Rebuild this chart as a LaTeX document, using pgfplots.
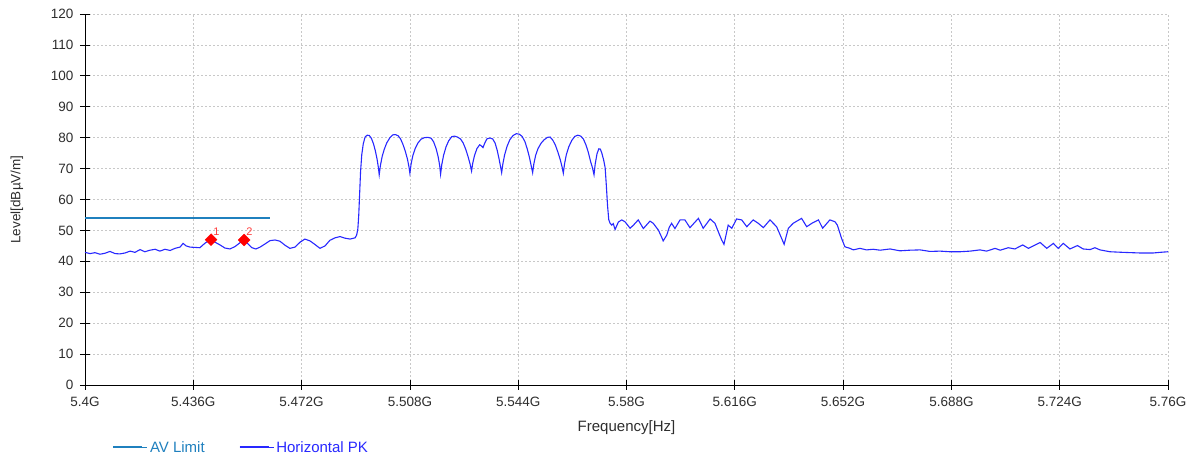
\documentclass[border=0pt]{standalone}
\usepackage{fontspec}
\setmainfont{Liberation Sans}
\usepackage{pgfplots}
\pgfplotsset{compat=1.18}
\definecolor{limitc}{RGB}{31,128,190}
\definecolor{tracec}{RGB}{40,40,255}
\definecolor{gridc}{RGB}{200,200,200}
\definecolor{txtc}{RGB}{45,45,45}
\begin{document}
\begin{tikzpicture}
\useasboundingbox (0,0) rectangle (1196pt,454pt);
\begin{axis}[
  at={(85pt,69pt)}, anchor=south west,
  scale only axis, width=1083pt, height=371pt,
  xmin=5400, xmax=5760, ymin=0, ymax=120,
  xtick={5400,5436,5472,5508,5544,5580,5616,5652,5688,5724,5760},
  xticklabels={5.4G,5.436G,5.472G,5.508G,5.544G,5.58G,5.616G,5.652G,5.688G,5.724G,5.76G},
  ytick={0,10,20,30,40,50,60,70,80,90,100,110,120},
  yticklabels={0,10,20,30,40,50,60,70,80,90,100,110,120},
  axis lines=left, axis line style={-, black, line width=0.8pt},
  grid=major, grid style={dash pattern=on 2pt off 2pt, gridc, line width=0.7pt},
  tick align=center, major tick length=10pt, tick style={black, line width=0.8pt},
  tick label style={font=\fontsize{13.5}{15}\selectfont, text=txtc},
  xticklabel style={yshift=-4pt},
  yticklabel style={xshift=-3pt},
  /pgf/number format/assume math mode=true,
  xlabel={Frequency[Hz]},
  ylabel={Level[dBµV/m]},
  xlabel style={at={(axis description cs:0.5,0)}, anchor=center, yshift=-43pt, font=\fontsize{15}{17}\selectfont, text=txtc},
  ylabel style={at={(axis description cs:0,0.5)}, anchor=center, yshift=68pt, font=\fontsize{13.5}{15}\selectfont, text=txtc},
  legend columns=2,
  legend style={draw=none, fill=none, at={(axis description cs:0,0)}, anchor=west, xshift=24pt, yshift=-62.5pt, font=\fontsize{15}{15}\selectfont, /tikz/every even column/.append style={column sep=32pt}},
  clip=false,
]
\addplot[limitc, line width=1.6pt,
  legend image code/.code={\draw[limitc, line width=2pt] (0pt,0pt) -- (29pt,0pt); \path (0pt,0pt) -- (34pt,0pt);}]
  coordinates {(5400,54) (5461.5,54)};
\addlegendentry{\textcolor{limitc}{AV Limit}}
\addplot[tracec, line width=1.1pt,
  legend image code/.code={\draw[tracec, line width=2pt] (0pt,0pt) -- (29pt,0pt); \path (0pt,0pt) -- (34pt,0pt);}]
  coordinates {
(5400.0,42.9) (5401.7,42.5) (5403.3,42.8) (5405.0,42.3) (5406.6,42.6) (5408.3,43.2)
(5410.0,42.5) (5411.6,42.4) (5413.3,42.7) (5415.0,43.3) (5416.6,42.9) (5418.3,43.8)
(5419.9,43.1) (5421.6,43.6) (5423.3,43.9) (5424.9,43.3) (5426.6,43.9) (5428.3,43.5)
(5429.9,44.2) (5431.6,44.6) (5432.6,45.8) (5433.6,45.0) (5434.9,44.6) (5436.6,44.5)
(5438.2,44.4) (5439.2,45.3) (5440.2,46.1) (5441.9,46.9) (5443.2,46.2) (5444.9,45.3)
(5446.5,44.3) (5448.2,44.0) (5449.9,44.8) (5451.5,46.0) (5452.9,46.9) (5454.2,45.6)
(5455.5,44.4) (5456.8,44.0) (5458.2,44.6) (5459.8,45.6) (5461.5,46.7) (5463.2,46.9)
(5464.8,46.5) (5466.5,45.2) (5468.1,44.2) (5469.8,44.6) (5471.5,46.2) (5473.1,47.2)
(5474.8,46.6) (5476.5,45.4) (5478.1,44.2) (5479.8,45.0) (5481.4,46.8) (5483.1,47.6)
(5484.8,48.0) (5486.4,47.5) (5488.1,47.2) (5489.8,47.6)
(5490.3,48.5) (5490.7,50.5) (5491.0,55.0) (5491.3,62.0) (5491.6,69.0) (5492.0,74.5)
(5492.5,78.0) (5493.1,80.2) (5493.8,80.8) (5494.5,80.7) (5495.2,79.8) (5495.9,78.0)
(5496.5,75.8) (5497.1,73.0) (5497.5,70.5) (5497.8,68.0)
(5498.2,71.0) (5498.8,74.0) (5499.5,76.3) (5500.3,78.3) (5501.3,79.9) (5502.3,80.9)
(5503.2,81.0) (5504.1,80.6) (5504.9,79.6) (5505.7,77.8) (5506.5,75.5) (5507.2,73.0)
(5507.7,70.5) (5508.0,68.5)
(5508.4,71.5) (5509.0,74.3) (5509.8,76.6) (5510.7,78.3) (5511.7,79.5) (5512.8,80.0)
(5514.0,80.1) (5515.1,79.8) (5515.9,78.6) (5516.7,76.5) (5517.4,73.8) (5517.9,71.0)
(5518.2,68.2)
(5518.6,71.3) (5519.2,74.3) (5520.0,77.0) (5520.9,79.0) (5521.9,80.3) (5522.8,80.5)
(5523.8,80.2) (5524.8,79.6) (5525.7,78.3) (5526.5,76.4) (5527.3,74.0) (5528.0,71.5)
(5528.5,69.2)
(5528.9,71.8) (5529.5,74.3) (5530.3,76.5) (5531.2,77.7) (5531.8,77.3) (5532.3,76.8)
(5532.9,78.3) (5533.6,79.6) (5534.6,79.9) (5535.5,79.6) (5536.3,78.3) (5537.0,76.0)
(5537.6,73.3) (5538.1,70.8) (5538.5,68.7)
(5538.9,71.5) (5539.5,74.5) (5540.3,77.2) (5541.2,79.3) (5542.3,80.7) (5543.4,81.3)
(5544.4,81.1) (5545.3,80.4) (5546.2,78.8) (5547.0,76.4) (5547.7,73.8) (5548.3,71.0)
(5548.8,68.7)
(5549.2,71.5) (5549.8,74.3) (5550.6,76.5) (5551.6,78.2) (5552.6,79.3) (5553.7,80.1)
(5554.6,80.2) (5555.5,79.2) (5556.4,77.5) (5557.2,75.3) (5558.0,72.8) (5558.6,70.5)
(5559.0,68.5)
(5559.4,71.5) (5560.0,74.5) (5560.8,77.0) (5561.8,79.1) (5562.8,80.4) (5563.8,80.8)
(5564.8,80.5) (5565.7,79.5) (5566.5,77.7) (5567.3,75.3) (5568.0,72.5) (5568.7,70.2)
(5569.2,68.0)
(5569.6,71.5) (5570.2,74.8) (5570.8,76.4) (5571.3,76.3) (5571.8,75.0) (5572.4,72.8)
(5572.9,70.3) (5573.3,64.5) (5573.7,58.0) (5574.1,53.5)
(5574.5,52.4) (5575.1,51.7) (5575.6,52.2) (5576.2,50.3) (5577.3,52.7) (5578.4,53.4) (5579.5,52.8)
(5581.2,50.7) (5582.3,51.7) (5583.9,53.4) (5585.6,50.6) (5587.8,53.0) (5588.9,52.3)
(5590.6,50.1) (5591.6,48.0) (5592.2,46.6) (5593.4,48.5) (5594.2,51.0) (5595.0,52.3) (5596.1,50.6) (5597.8,53.4)
(5599.4,53.4) (5601.1,50.9) (5603.9,53.9) (5605.5,50.7) (5607.8,53.7) (5609.4,52.3)
(5610.5,49.6) (5611.6,47.0) (5612.4,45.5) (5613.2,49.0) (5613.8,51.7) (5615.0,50.7) (5616.6,53.7) (5618.3,53.4)
(5620.0,51.2) (5622.1,53.4) (5623.8,52.3) (5625.5,50.9) (5627.7,53.4) (5629.9,51.2)
(5631.4,47.8) (5632.4,45.5) (5633.2,48.5) (5633.8,50.7) (5635.4,52.3) (5638.2,53.9) (5639.9,51.2) (5641.6,52.3)
(5643.8,53.4) (5645.2,50.7) (5647.6,53.4) (5649.3,52.8) (5650.1,51.7) (5651.5,47.4)
(5652.6,44.7) (5654.3,44.2) (5655.4,43.7) (5657.6,44.2) (5659.8,43.7) (5662.0,43.9)
(5664.3,43.6) (5667.6,44.0) (5670.9,43.4) (5674.2,43.6) (5677.6,43.7) (5680.9,43.2)
(5684.2,43.3) (5687.5,43.1) (5690.9,43.1) (5694.2,43.3) (5697.5,43.7) (5699.7,43.3)
(5702.5,44.2) (5704.2,43.6) (5706.9,44.4) (5709.1,44.0) (5711.7,45.3) (5713.6,44.2)
(5717.5,46.1) (5719.7,44.2) (5721.9,45.8) (5723.5,44.2) (5725.2,45.8) (5727.4,44.0)
(5729.9,45.1) (5731.8,44.0) (5734.1,43.8) (5735.7,44.4) (5737.4,43.7) (5740.7,43.1)
(5745.1,42.9) (5750.7,42.7) (5755.1,42.7) (5757.3,42.9) (5760.0,43.1)
};
\addlegendentry{\textcolor{tracec}{Horizontal PK}}
\addplot[only marks, mark=square*, mark size=4.2pt, mark options={rotate=45, fill=red, draw=red}, red,
  nodes near coords, point meta=explicit symbolic,
  every node near coord/.append style={anchor=south west, xshift=2pt, yshift=4pt, font=\fontsize{11}{12}\selectfont, text=red!75, inner sep=0pt},
  forget plot] coordinates {(5441.9,47.0) [1] (5452.9,46.9) [2]};
\end{axis}
\end{tikzpicture}
\end{document}
